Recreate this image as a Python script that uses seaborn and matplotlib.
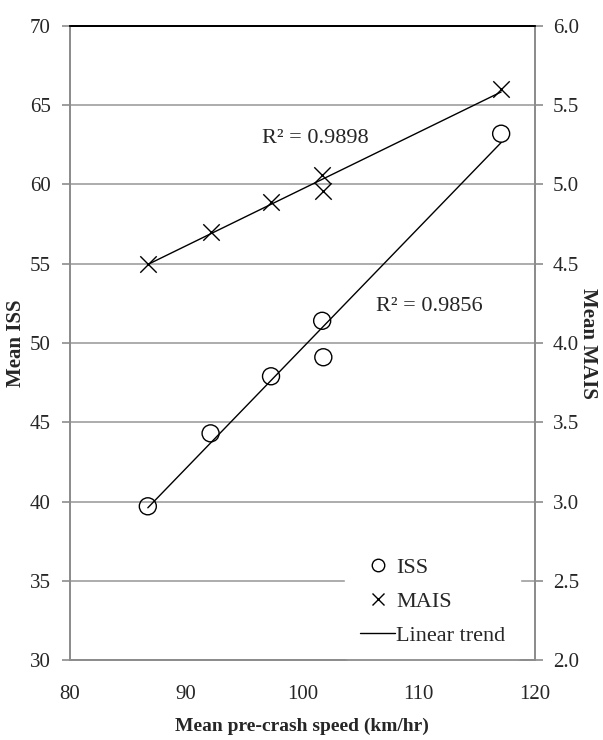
import numpy as np
import pandas as pd
import matplotlib
matplotlib.use("Agg")
import matplotlib.pyplot as plt
import seaborn as sns
from matplotlib.lines import Line2D

# values
speed = [86.7, 92.1, 97.3, 101.7, 101.8, 117.1]
iss = [39.7, 44.3, 47.9, 51.4, 49.1, 63.2]
mais = [4.50, 4.70, 4.89, 5.06, 4.96, 5.60]
r2_iss = "R² = 0.9856"
r2_mais = "R² = 0.9898"

df = pd.DataFrame({"speed": speed, "iss": iss, "mais": mais})

sns.set_style("white")
plt.rcParams['font.family'] = ['Liberation Serif', 'DejaVu Serif']

fig = plt.figure(figsize=(6.03, 7.4), dpi=100)
ax = fig.add_axes([0.116, 0.108, 0.771, 0.857])
ax2 = ax.twinx()

grey = "#8c8c8c"

# ISS on the left axis
sns.scatterplot(data=df, x="speed", y="iss", ax=ax, marker="o", s=150,
                facecolor="none", edgecolor="black", linewidth=1.0, zorder=3)
sns.regplot(data=df, x="speed", y="iss", ax=ax, scatter=False, ci=None,
            line_kws={"color": "black", "lw": 1.0})

# MAIS on the right axis
sns.scatterplot(data=df, x="speed", y="mais", ax=ax2, marker="x", s=140,
                color="black", linewidth=1.0, zorder=3)
sns.regplot(data=df, x="speed", y="mais", ax=ax2, scatter=False, ci=None,
            line_kws={"color": "black", "lw": 1.0})

ax.set_xlim(80, 120)
ax.set_ylim(30, 70)
ax2.set_ylim(2.0, 6.0)
ax.set_xticks(np.arange(80, 121, 10))
ax.set_yticks(np.arange(30, 71, 5))
ax2.set_yticks(np.arange(2.0, 6.01, 0.5))
ax2.set_yticklabels([f"{v:.1f}" for v in np.arange(2.0, 6.01, 0.5)])

ax.yaxis.grid(True, color="#a6a6a6", lw=1.3)
ax.set_axisbelow(True)

for a in (ax, ax2):
    for s in a.spines.values():
        s.set_color(grey)
        s.set_linewidth(1.3)
    a.spines["top"].set_color("black")
    a.tick_params(direction="out", length=6, width=1.2, color=grey,
                  labelsize=15)
ax.tick_params(axis="x", pad=12)
ax.tick_params(axis="y", pad=8)
ax2.tick_params(axis="y", pad=7)

ax.set_xlabel("Mean pre-crash speed (km/hr)", fontsize=14, fontweight="bold",
              labelpad=10)
ax.set_ylabel("Mean ISS", fontsize=15, fontweight="bold")
ax.yaxis.set_label_coords(-0.094, 0.5)
ax2.set_ylabel("Mean MAIS", fontsize=15, fontweight="bold", rotation=-90)
ax2.yaxis.set_label_coords(1.135, 0.5)

ax.text(106.3, 52.3, r2_iss, fontsize=16, ha="left", va="center")
ax2.text(96.5, 5.29, r2_mais, fontsize=16, ha="left", va="center")

handles = [
    Line2D([], [], marker="o", ls="none", mfc="none", mec="black", ms=9),
    Line2D([], [], marker="x", ls="none", color="black", ms=9),
    Line2D([], [], color="black", lw=1.0),
]
# legend on the lower axes so the twin's spines stay drawn over its box
leg = ax.legend(handles, ["ISS", "MAIS", "Linear trend"], loc="lower right",
                bbox_to_anchor=(0.968, 0.0), fontsize=16, frameon=True,
                handlelength=1.6, handletextpad=0.05, labelspacing=0.6,
                borderpad=0.65, borderaxespad=0.0)
leg.get_frame().set_edgecolor("white")
leg.get_frame().set_facecolor("white")
leg.get_frame().set_alpha(1.0)

fig.savefig("out.png", dpi=100)
